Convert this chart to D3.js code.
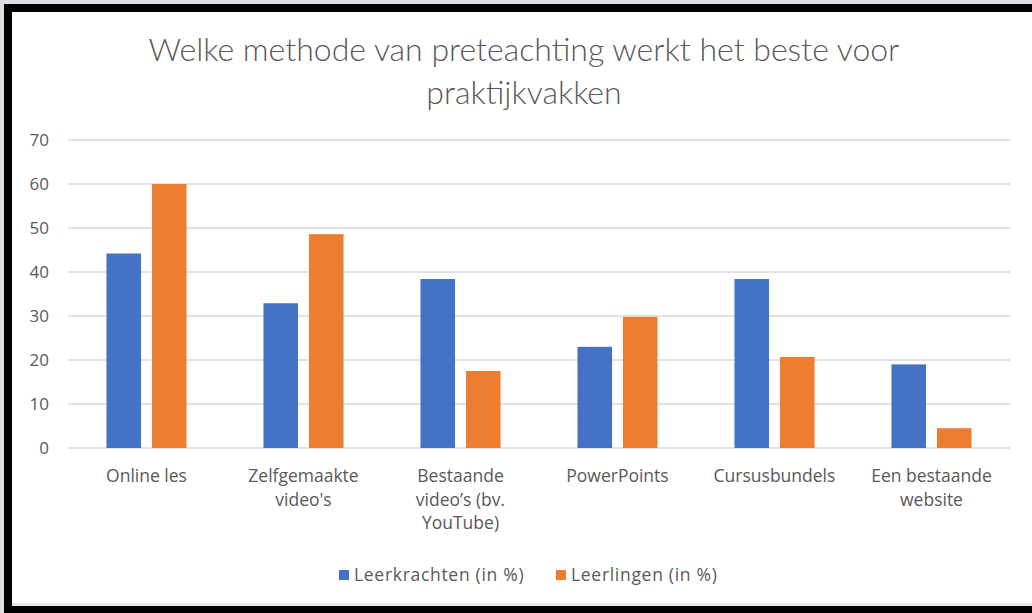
<!DOCTYPE html>
<html>
<head>
<meta charset="utf-8">
<script src="https://cdn.jsdelivr.net/npm/d3@7"></script>
<style>
  html, body { margin: 0; padding: 0; overflow: hidden; background: #ffffff; }
  svg { display: block; }
  text { font-family: "Open Sans", Lato, sans-serif; }
</style>
</head>
<body>
<script>
// Data
var categories = ["Online les", "Zelfgemaakte video's", "Bestaande video’s (bv. YouTube)",
                  "PowerPoints", "Cursusbundels", "Een bestaande website"];
var categoryLines = [["Online les"], ["Zelfgemaakte", "video's"], ["Bestaande", "video’s (bv.", "YouTube)"],
                     ["PowerPoints"], ["Cursusbundels"], ["Een bestaande", "website"]];
var seriesNames = ["Leerkrachten (in %)", "Leerlingen (in %)"];
var leerkrachten = [44.2, 32.9, 38.4, 23.0, 38.4, 19.0];
var leerlingen = [60.0, 48.6, 17.5, 29.8, 20.7, 4.5];
var yTicks = [0, 10, 20, 30, 40, 50, 60, 70];
var titleLines = ["Welke methode van preteachting werkt het beste voor", "praktijkvakken"];

var colors = ["#4472C4", "#ED7D31"];

var chartW = 1032;
var chartH = 613;
// plot area edges (not named top/left: those clash with window globals)
var plotLeft = 68, plotRight = 1010, plotTop = 140, plotBottom = 448;

var svg = d3.select("body").append("svg")
    .attr("width", chartW)
    .attr("height", chartH);

// Screenshot frame: white page, gray margin, black strips top/left/bottom
svg.append("rect").attr("x", 0).attr("y", 0).attr("width", chartW).attr("height", chartH).attr("fill", "#ffffff");
svg.append("rect").attr("x", 0).attr("y", 0).attr("width", chartW).attr("height", 4).attr("fill", "#dcdde3");
svg.append("rect").attr("x", 0).attr("y", 0).attr("width", 4).attr("height", chartH).attr("fill", "#dcdde3");
svg.append("rect").attr("x", 4).attr("y", 4).attr("width", chartW - 4).attr("height", 8).attr("fill", "#000000");
svg.append("rect").attr("x", 4).attr("y", 4).attr("width", 8).attr("height", chartH - 4).attr("fill", "#000000");
svg.append("rect").attr("x", 12).attr("y", 603).attr("width", chartW - 12).attr("height", 3).attr("fill", "#e6e6e6");
svg.append("rect").attr("x", 4).attr("y", 606).attr("width", chartW - 4).attr("height", 7).attr("fill", "#000000");

// Scales
var x0 = d3.scaleBand().domain(categories).range([plotLeft, plotRight]).paddingInner(0.49).paddingOuter(0.245);
var x1 = d3.scaleBand().domain(seriesNames).range([0, x0.bandwidth()]).paddingInner(0.24);
var y = d3.scaleLinear().domain([0, 70]).range([plotBottom, plotTop]);

// Gridlines
svg.append("g").selectAll("line").data(yTicks).enter().append("line")
    .attr("x1", plotLeft).attr("x2", plotRight)
    .attr("y1", function(d) { return y(d); })
    .attr("y2", function(d) { return y(d); })
    .attr("stroke", "#d9d9d9").attr("stroke-width", 1.3);

// Y axis labels
var yAxis = d3.axisLeft(y).tickValues(yTicks).tickSize(0).tickPadding(0);
var yG = svg.append("g").attr("transform", "translate(49,0)").call(yAxis);
yG.select(".domain").remove();
yG.selectAll("text").attr("fill", "#595959").attr("font-size", "17px")
    .style("font-family", "'Open Sans', Lato, sans-serif");

// Bars
var table = categories.map(function(c, i) {
    return { cat: c, values: [leerkrachten[i], leerlingen[i]] };
});
var groups = svg.append("g").selectAll("g").data(table).enter().append("g")
    .attr("transform", function(d) { return "translate(" + x0(d.cat) + ",0)"; });
groups.selectAll("rect").data(function(d) {
        return d.values.map(function(v, j) { return { s: seriesNames[j], v: v, j: j }; });
    }).enter().append("rect")
    .attr("x", function(d) { return x1(d.s); })
    .attr("y", function(d) { return y(d.v); })
    .attr("width", x1.bandwidth())
    .attr("height", function(d) { return y(0) - y(d.v); })
    .attr("fill", function(d) { return colors[d.j]; });

// X category labels
var labels = svg.append("g").selectAll("text").data(categories).enter().append("text")
    .attr("x", function(d) { return x0(d) + x0.bandwidth() / 2; })
    .attr("y", 482)
    .attr("text-anchor", "middle")
    .attr("fill", "#595959")
    .attr("font-size", "17.5px");
labels.selectAll("tspan").data(function(d, i) { return categoryLines[i]; }).enter().append("tspan")
    .attr("x", function() { return this.parentNode.getAttribute("x"); })
    .attr("dy", function(d, i) { return i === 0 ? 0 : 23.5; })
    .text(function(d) { return d; });

// Title
svg.append("g").selectAll("text").data(titleLines).enter().append("text")
    .attr("x", 524)
    .attr("y", function(d, i) { return 61 + i * 43; })
    .attr("text-anchor", "middle")
    .attr("fill", "#595959")
    .attr("font-size", "32px")
    .attr("font-weight", 300)
    .style("font-family", "Lato, 'Open Sans', sans-serif")
    .text(function(d) { return d; });

// Legend
var legendX = [339, 556];
var legend = svg.append("g").selectAll("g").data(seriesNames).enter().append("g")
    .attr("transform", function(d, i) { return "translate(" + legendX[i] + ",570)"; });
legend.append("rect").attr("width", 10).attr("height", 10)
    .attr("fill", function(d, i) { return colors[i]; });
legend.append("text").attr("x", 15).attr("y", 11)
    .attr("fill", "#595959").attr("font-size", "17.5px")
    .attr("letter-spacing", "0.7px")
    .text(function(d) { return d; });
</script>
</body>
</html>
